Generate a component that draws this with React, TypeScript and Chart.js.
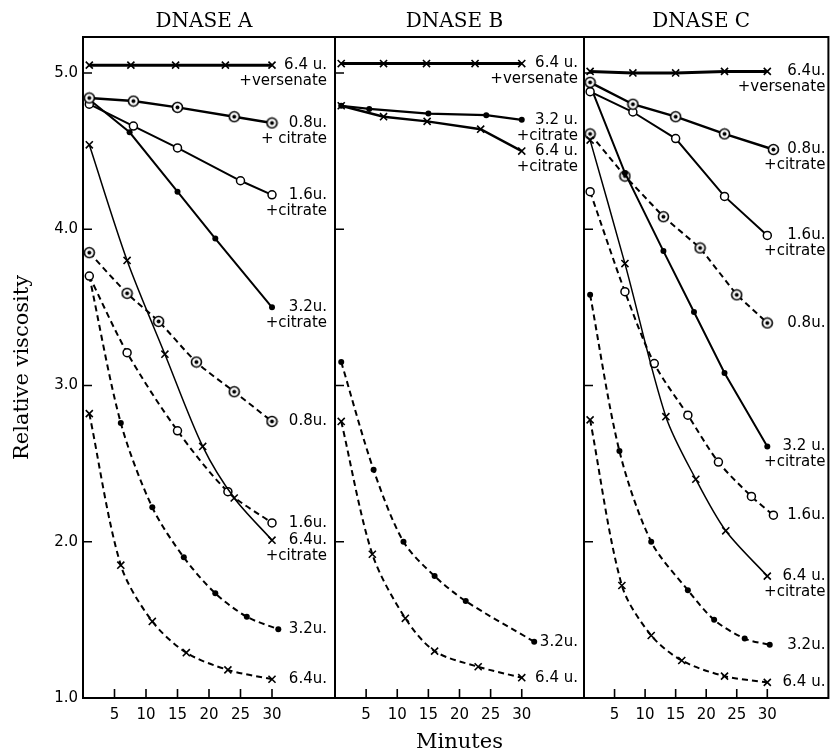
import React, { useEffect, useRef } from 'react';
import { Chart, registerables } from 'chart.js';
Chart.register(...registerables);

// ---------- axis / layout constants ----------
const TITLES = ['DNASE A', 'DNASE B', 'DNASE C'];
const X_TICKS = [5, 10, 15, 20, 25, 30];
const Y_TICKS = [1, 2, 3, 4, 5];
const X_MIN = 0;
const X_MAX = 40;
const Y_MIN = 1.0;
const Y_MAX = 5.23;

// ---------- DNASE A ----------
const aVersT = [1, 7.6, 14.7, 22.6, 30];
const aVersV = [5.05, 5.05, 5.05, 5.05, 5.05];
const aC08T = [1, 8, 15, 24, 30];
const aC08V = [4.84, 4.82, 4.78, 4.72, 4.68];
const aC16T = [1, 8, 15, 25, 30];
const aC16V = [4.80, 4.66, 4.52, 4.31, 4.22];
const aC32T = [1, 7.4, 15, 21, 30];
const aC32V = [4.83, 4.62, 4.24, 3.94, 3.50];
const aC64T = [1, 7, 13, 19, 24, 30];
const aC64V = [4.54, 3.80, 3.20, 2.61, 2.28, 2.01];
const aD08T = [1, 7, 12, 18, 24, 30];
const aD08V = [3.85, 3.59, 3.41, 3.15, 2.96, 2.77];
const aD16T = [1, 7, 15, 23, 30];
const aD16V = [3.70, 3.21, 2.71, 2.32, 2.12];
const aD32T = [1, 6, 11, 16, 21, 26, 31];
const aD32V = [3.70, 2.76, 2.22, 1.90, 1.67, 1.52, 1.44];
const aD64T = [1, 6, 11, 16.4, 23, 30];
const aD64V = [2.82, 1.85, 1.49, 1.29, 1.18, 1.12];

// ---------- DNASE B ----------
const bVersT = [1, 7.8, 14.7, 22.5, 30];
const bVersV = [5.06, 5.06, 5.06, 5.06, 5.06];
const bC32T = [1, 5.5, 15, 24.3, 30];
const bC32V = [4.79, 4.77, 4.74, 4.73, 4.70];
const bC64T = [1, 7.8, 14.8, 23.4, 30];
const bC64V = [4.79, 4.72, 4.69, 4.64, 4.50];
const bD32T = [1, 6.2, 11, 16, 21, 32];
const bD32V = [3.15, 2.46, 2.00, 1.78, 1.62, 1.36];
const bD64T = [1, 6, 11.3, 16, 23, 30];
const bD64V = [2.77, 1.92, 1.51, 1.30, 1.20, 1.13];

// ---------- DNASE C ----------
const cVersT = [1, 8, 15, 23, 30];
const cVersV = [5.01, 5.0, 5.0, 5.01, 5.01];
const cC08T = [1, 8, 15, 23, 31];
const cC08V = [4.94, 4.80, 4.72, 4.61, 4.51];
const cC16T = [1, 8, 15, 23, 30];
const cC16V = [4.88, 4.75, 4.58, 4.21, 3.96];
const cC32T = [1, 6.7, 13, 18, 23, 30];
const cC32V = [4.92, 4.36, 3.86, 3.47, 3.08, 2.61];
const cC64T = [1, 6.7, 13.4, 18.3, 23.2, 30];
const cC64V = [4.57, 3.78, 2.80, 2.40, 2.07, 1.78];
const cD08T = [1, 6.7, 13, 19, 25, 30];
const cD08V = [4.61, 4.34, 4.08, 3.88, 3.58, 3.40];
const cD16T = [1, 6.7, 11.5, 17, 22, 27.4, 31];
const cD16V = [4.24, 3.60, 3.14, 2.81, 2.51, 2.29, 2.17];
const cD32T = [1, 5.8, 11, 17, 21.3, 26.3, 30.4];
const cD32V = [3.58, 2.58, 2.00, 1.69, 1.50, 1.38, 1.34];
const cD64T = [1, 6.2, 11, 16, 23, 30];
const cD64V = [2.78, 1.72, 1.40, 1.24, 1.14, 1.10];

type Mark = 'x' | 'open' | 'dot' | 'dotted';
interface Series {
  t: number[];
  v: number[];
  mark: Mark;
  dashed: boolean;
  width: number;
  smooth: boolean;
  text: string[];
}

const s = (t: number[], v: number[], mark: Mark, dashed: boolean, width: number, smooth: boolean, text: string[]): Series =>
  ({ t, v, mark, dashed, width, smooth, text });

const PANEL_A: Series[] = [
  s(aVersT, aVersV, 'x', false, 3, false, ['6.4 u.', '+versenate']),
  s(aC08T, aC08V, 'dotted', false, 2.4, false, ['0.8u.', '+ citrate']),
  s(aC16T, aC16V, 'open', false, 2, false, ['1.6u.', '+citrate']),
  s(aC32T, aC32V, 'dot', false, 2, false, ['3.2u.', '+citrate']),
  s(aC64T, aC64V, 'x', false, 1.5, true, ['6.4u.', '+citrate']),
  s(aD08T, aD08V, 'dotted', true, 2, true, ['0.8u.']),
  s(aD16T, aD16V, 'open', true, 2, true, ['1.6u.']),
  s(aD32T, aD32V, 'dot', true, 2, true, ['3.2u.']),
  s(aD64T, aD64V, 'x', true, 2, true, ['6.4u.']),
];
const PANEL_B: Series[] = [
  s(bVersT, bVersV, 'x', false, 3, false, ['6.4 u.', '+versenate']),
  s(bC32T, bC32V, 'dot', false, 2.2, false, ['3.2 u.', '+citrate']),
  s(bC64T, bC64V, 'x', false, 2.4, false, ['6.4 u.', '+citrate']),
  s(bD32T, bD32V, 'dot', true, 2, true, ['3.2u.']),
  s(bD64T, bD64V, 'x', true, 2, true, ['6.4 u.']),
];
const PANEL_C: Series[] = [
  s(cVersT, cVersV, 'x', false, 3, false, ['6.4u.', '+versenate']),
  s(cC08T, cC08V, 'dotted', false, 2.4, false, ['0.8u.', '+citrate']),
  s(cC16T, cC16V, 'open', false, 2, false, ['1.6u.', '+citrate']),
  s(cC32T, cC32V, 'dot', false, 2, false, ['3.2 u.', '+citrate']),
  s(cC64T, cC64V, 'x', false, 1.5, true, ['6.4 u.', '+citrate']),
  s(cD08T, cD08V, 'dotted', true, 2, false, ['0.8u.']),
  s(cD16T, cD16V, 'open', true, 2, true, ['1.6u.']),
  s(cD32T, cD32V, 'dot', true, 2, true, ['3.2u.']),
  s(cD64T, cD64V, 'x', true, 2, true, ['6.4 u.']),
];

const PANELS = [PANEL_A, PANEL_B, PANEL_C];
// chart-area horizontal extents of each panel (layout only)
const PANEL_LEFT = [83, 335, 584];
const PANEL_RIGHT = [335, 584, 834];
const LABEL_INSET = [8, 6, 3];
const W = 835;
const H = 755;
const TOP = 37;
const BOTTOM_AXIS = 57;

const LABEL_FONT = '15px "DejaVu Sans"';
const TICK_FONT = { family: 'DejaVu Sans', size: 15 };

function dottedCircle(): HTMLCanvasElement {
  const c = document.createElement('canvas');
  c.width = 13;
  c.height = 13;
  const g = c.getContext('2d')!;
  g.beginPath();
  g.arc(6.5, 6.5, 5, 0, Math.PI * 2);
  g.fillStyle = '#fff';
  g.fill();
  g.lineWidth = 1.6;
  g.strokeStyle = '#000';
  g.stroke();
  g.beginPath();
  g.arc(6.5, 6.5, 2, 0, Math.PI * 2);
  g.fillStyle = '#000';
  g.fill();
  return c;
}

function markerProps(mark: Mark, dotted: HTMLCanvasElement) {
  switch (mark) {
    case 'x':
      return { pointStyle: 'crossRot', pointRadius: 5, pointBorderWidth: 1.6, pointBackgroundColor: '#000' };
    case 'open':
      return { pointStyle: 'circle', pointRadius: 4, pointBorderWidth: 1.5, pointBackgroundColor: '#fff' };
    case 'dot':
      return { pointStyle: 'circle', pointRadius: 3, pointBorderWidth: 0, pointBackgroundColor: '#000' };
    default:
      return { pointStyle: dotted, pointRadius: 5, pointBorderWidth: 1, pointBackgroundColor: '#fff' };
  }
}

function makePlugin(idx: number, series: Series[]) {
  return {
    id: 'frame' + idx,
    afterDraw(chart: any) {
      const { ctx, chartArea: ca, scales } = chart;
      ctx.save();
      ctx.strokeStyle = '#000';
      ctx.lineWidth = 2;
      ctx.setLineDash([]);
      ctx.strokeRect(ca.left, ca.top, ca.right - ca.left, ca.bottom - ca.top);
      ctx.lineWidth = 1.6;
      ctx.beginPath();
      X_TICKS.forEach((v) => {
        const x = scales.x.getPixelForValue(v);
        ctx.moveTo(x, ca.bottom);
        ctx.lineTo(x, ca.bottom - 9);
      });
      [2, 3, 4, 5].forEach((v) => {
        const y = scales.y.getPixelForValue(v);
        ctx.moveTo(ca.left, y);
        ctx.lineTo(ca.left + 9, y);
      });
      ctx.stroke();
      // panel title
      ctx.fillStyle = '#000';
      ctx.font = '20px "DejaVu Serif"';
      ctx.textAlign = 'center';
      ctx.textBaseline = 'middle';
      ctx.fillText(TITLES[idx], (ca.left + ca.right) / 2 - 5, 22);
      // series labels
      ctx.font = LABEL_FONT;
      ctx.textAlign = 'right';
      series.forEach((sr) => {
        const y = scales.y.getPixelForValue(sr.v[sr.v.length - 1]);
        const xr = ca.right - LABEL_INSET[idx];
        sr.text.forEach((line, i) => {
          ctx.fillText(line, xr, y + i * 16);
        });
      });
      ctx.restore();
    },
  };
}

export default function App() {
  const refs = [useRef<HTMLCanvasElement>(null), useRef<HTMLCanvasElement>(null), useRef<HTMLCanvasElement>(null)];

  useEffect(() => {
    const dotted = dottedCircle();
    const charts: Chart[] = [];
    PANELS.forEach((series, idx) => {
      const canvas = refs[idx].current;
      if (!canvas) return;
      const datasets = series.map((sr) => ({
        data: sr.t.map((x, i) => ({ x, y: sr.v[i] })),
        borderColor: '#000',
        borderWidth: sr.width,
        borderDash: sr.dashed ? [6, 4] : [],
        tension: sr.smooth ? 0.3 : 0,
        cubicInterpolationMode: 'default',
        pointBorderColor: '#000',
        fill: false,
        ...markerProps(sr.mark, dotted),
      }));
      const chart = new Chart(canvas, {
        type: 'line',
        data: { datasets } as any,
        options: {
          responsive: false,
          animation: false,
          events: [],
          layout: {
            padding: {
              left: idx === 0 ? 0 : PANEL_LEFT[idx],
              right: W - PANEL_RIGHT[idx],
              top: TOP,
              bottom: 0,
            },
          },
          plugins: { legend: { display: false }, tooltip: { enabled: false }, title: { display: false } },
          scales: {
            x: {
              type: 'linear',
              min: X_MIN,
              max: X_MAX,
              grid: { display: false, drawTicks: false },
              border: { display: false },
              afterBuildTicks: (sc: any) => {
                sc.ticks = X_TICKS.map((v) => ({ value: v }));
              },
              afterFit: (sc: any) => {
                sc.height = BOTTOM_AXIS;
                sc.paddingLeft = 0;
                sc.paddingRight = 0;
              },
              ticks: { color: '#000', font: TICK_FONT, padding: 8, maxRotation: 0, minRotation: 0, autoSkip: false },
              title: {
                display: idx === 1,
                text: 'Minutes',
                color: '#000',
                font: { family: 'DejaVu Serif', size: 21 },
                padding: { top: 0, bottom: 0 },
              },
            },
            y: {
              type: 'linear',
              display: idx === 0,
              min: Y_MIN,
              max: Y_MAX,
              grid: { display: false, drawTicks: false },
              border: { display: false },
              afterBuildTicks: (sc: any) => {
                sc.ticks = Y_TICKS.map((v) => ({ value: v }));
              },
              afterFit: (sc: any) => {
                sc.width = idx === 0 ? PANEL_LEFT[0] : 0;
                sc.paddingTop = 0;
                sc.paddingBottom = 0;
              },
              ticks: {
                color: '#000',
                font: TICK_FONT,
                padding: 5,
                callback: (v: any) => Number(v).toFixed(1),
              },
              title: {
                display: idx === 0,
                text: 'Relative viscosity',
                color: '#000',
                font: { family: 'DejaVu Serif', size: 21 },
                padding: { top: 10, bottom: 0 },
              },
            },
          },
        } as any,
        plugins: [makePlugin(idx, series)],
      });
      charts.push(chart);
    });
    return () => charts.forEach((c) => c.destroy());
  }, []);

  return (
    <div style={{ position: 'absolute', left: 0, top: 0, width: W, height: H, background: '#fff', overflow: 'hidden' }}>
      {refs.map((r, i) => (
        <canvas key={i} ref={r} width={W} height={H} style={{ position: 'absolute', left: 0, top: 0, width: W, height: H }} />
      ))}
    </div>
  );
}
